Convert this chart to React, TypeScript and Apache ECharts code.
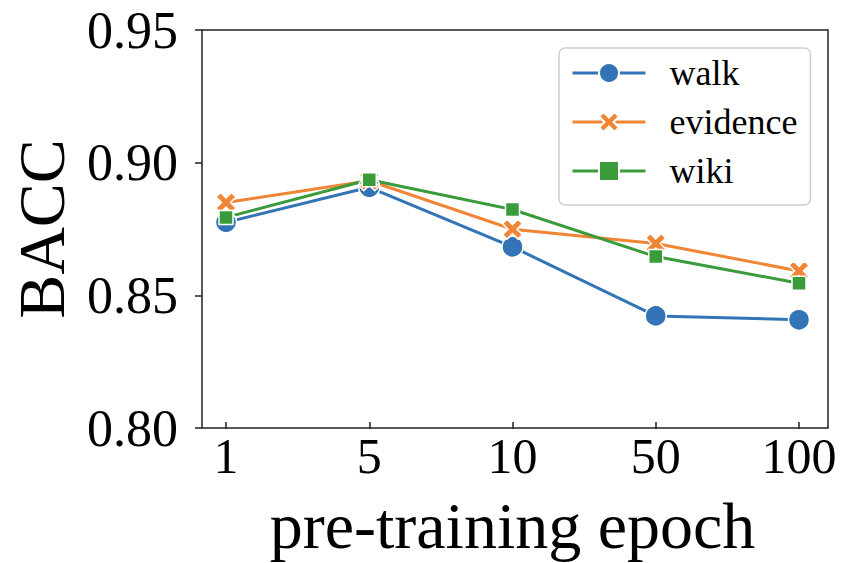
import React, { useEffect, useRef } from "react";
import * as echarts from "echarts";

const epochs = ["1", "5", "10", "50", "100"];
const walk = [0.8764, 0.8898, 0.867, 0.8406, 0.8391];
const evidence = [0.884, 0.8923, 0.8738, 0.8683, 0.8578];
const wiki = [0.8783, 0.8927, 0.8813, 0.8633, 0.8531];
const yTicks = { min: 0.8, max: 0.95, interval: 0.05 };

const FONT = "Liberation Serif";
const BLUE = "#3274b5";
const ORANGE = "#f08535";
const GREEN = "#3a9b3a";
const XPATH =
  "path://M0,4.5 L4.5,0 L10,5.5 L15.5,0 L20,4.5 L14.5,10 L20,15.5 L15.5,20 L10,14.5 L4.5,20 L0,15.5 L5.5,10 Z";

export default function App() {
  const ref = useRef<HTMLDivElement>(null);
  useEffect(() => {
    if (!ref.current) return;
    const chart = echarts.init(ref.current, undefined, { renderer: "svg" });
    const mk = (name: string, data: number[], color: string, symbol: string, size: number) => ({
      name,
      type: "line",
      xAxisIndex: 1,
      yAxisIndex: 1,
      data,
      symbol,
      symbolSize: size,
      lineStyle: { color, width: 3 },
      itemStyle: { color, borderColor: "#fff", borderWidth: 1.5 },
      emphasis: { disabled: true },
    });
    chart.setOption({
      animation: false,
      backgroundColor: "#fff",
      textStyle: { fontFamily: FONT },
      grid: [
        { left: 197, right: 16, top: 30, bottom: 135, show: true, borderColor: "#222", borderWidth: 1.5, backgroundColor: "transparent" },
        { left: 226, right: 45, top: 30, bottom: 135 },
      ],
      xAxis: [
        { type: "value", gridIndex: 0, show: false, min: 0, max: 1 },
        {
          type: "category",
          gridIndex: 1,
          data: epochs,
          boundaryGap: false,
          axisLine: { show: false },
          axisTick: { show: true, length: 7, lineStyle: { color: "#222", width: 1.5 } },
          axisLabel: { fontFamily: FONT, fontSize: 50, color: "#000", margin: 9 },
          splitLine: { show: false },
          name: "pre-training epoch",
          nameLocation: "middle",
          nameGap: 70,
          nameTextStyle: { fontFamily: FONT, fontSize: 66, color: "#000" },
        },
      ],
      yAxis: [
        {
          type: "value",
          gridIndex: 0,
          min: yTicks.min,
          max: yTicks.max,
          interval: yTicks.interval,
          axisLine: { show: false },
          axisTick: { show: true, length: 7, lineStyle: { color: "#222", width: 1.5 } },
          axisLabel: { fontFamily: FONT, fontSize: 52, color: "#000", margin: 24, formatter: (v: number) => v.toFixed(2) },
          splitLine: { show: false },
          name: "BACC",
          nameLocation: "middle",
          nameGap: 128,
          nameTextStyle: { fontFamily: FONT, fontSize: 66, color: "#000" },
        },
        { type: "value", gridIndex: 1, min: yTicks.min, max: yTicks.max, show: false },
      ],
      legend: {
        left: 559,
        top: 48,
        orient: "vertical",
        itemWidth: 73,
        itemHeight: 25,
        itemGap: 13,
        padding: [7, 13, 16, 12],
        backgroundColor: "#fff",
        borderColor: "#d0d0d0",
        borderWidth: 1.5,
        borderRadius: 6,
        lineStyle: { width: 3 },
        textStyle: { fontFamily: FONT, fontSize: 36, color: "#000", padding: [0, 0, 0, 19] },
        data: ["walk", "evidence", "wiki"],
      },
      series: [
        mk("walk", walk, BLUE, "circle", 21),
        mk("evidence", evidence, ORANGE, XPATH, 20),
        mk("wiki", wiki, GREEN, "rect", 14),
      ],
    });
    return () => chart.dispose();
  }, []);
  return <div ref={ref} style={{ position: "absolute", left: 0, top: 0, width: 844, height: 563 }} />;
}
